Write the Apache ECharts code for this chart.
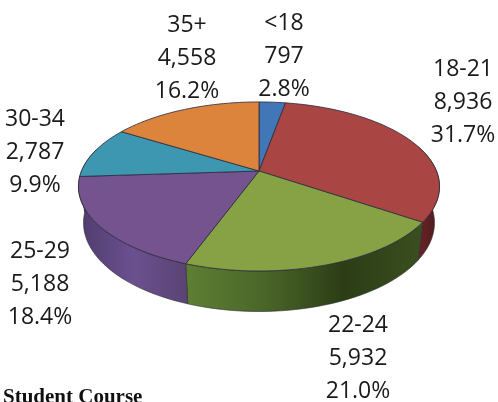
<!DOCTYPE html>
<html>
<head>
<meta charset="utf-8">
<style>
  html, body { margin: 0; background: #fff; }
  #chart { width: 498px; height: 402px; }
</style>
</head>
<body>
<div id="chart"></div>
<script src="https://cdn.jsdelivr.net/npm/echarts@6/dist/echarts.min.js"></script>
<script>
const ageGroups = ['<18', '18-21', '22-24', '25-29', '30-34', '35+']
const students = [797, 8936, 5932, 5188, 2787, 4558]
const shares = ['2.8%', '31.7%', '21.0%', '18.4%', '9.9%', '16.2%']

const faceColors = ['#4177b6', '#a94543', '#86a244', '#74538f', '#3e97b1', '#dc833c']
// left to right shading of the visible side wall
const wallStops = [
  ['#2a4a75', '#2a4a75'],
  ['#6d2627', '#4d1a1b'],
  ['#5e7f33', '#4a6628', '#2c3d16', '#3a4f1f'],
  ['#4e3c6c', '#6b5090', '#5a4472'],
  ['#27606f', '#27606f'],
  ['#8c5226', '#8c5226']
]
// label anchor per slice, centre of the three line block
const labelAnchors = [[284, 56], [463, 102], [358, 358], [40, 284], [35, 152], [187, 58]]

const apex = { x: 259, y: 171 }
const persp = 0.183
const radiusX = 177.5
const radiusY = 81.7
const wallBase = 206.5
const wallScaleX = 0.972
const wallScaleY = 1.05
const frontFrom = 72
const frontTo = 286

const total = students.reduce((sum, v) => sum + v, 0)
const bounds = [0]
students.forEach(v => bounds.push(bounds[bounds.length - 1] + (v / total) * 360))

// angle is clockwise from 12 o'clock, in degrees
const project = deg => {
  const rad = (deg * Math.PI) / 180
  const X = Math.sin(rad)
  const Y = Math.cos(rad)
  const d = 1 + persp * Y
  return { dx: (radiusX * X) / d, dy: (-radiusY * Y) / d }
}
const topPoint = deg => {
  const p = project(deg)
  return [apex.x + p.dx, apex.y + p.dy]
}
const bottomPoint = deg => {
  const p = project(deg)
  return [apex.x + p.dx * wallScaleX, wallBase + p.dy * wallScaleY]
}
const arc = (from, to, fn) => {
  const pts = []
  const steps = Math.max(2, Math.ceil(Math.abs(to - from) / 2))
  for (let i = 0; i <= steps; i++) pts.push(fn(from + ((to - from) * i) / steps))
  return pts
}

const renderWall = (params, api) => {
  const i = api.value(0)
  const from = Math.max(bounds[i], frontFrom)
  const to = Math.min(bounds[i + 1], frontTo)
  if (to <= from) return null
  const stops = wallStops[i]
  return {
    type: 'polygon',
    shape: { points: arc(from, to, topPoint).concat(arc(to, from, bottomPoint)) },
    style: {
      fill: new echarts.graphic.LinearGradient(
        0, 0, 1, 0,
        stops.map((color, k) => ({ offset: k / (stops.length - 1), color }))
      ),
      stroke: '#2b2b33',
      lineWidth: 0.6
    }
  }
}

const renderFace = (params, api) => {
  const i = api.value(0)
  return {
    type: 'polygon',
    shape: { points: [[apex.x, apex.y]].concat(arc(bounds[i], bounds[i + 1], topPoint)) },
    style: { fill: faceColors[i], stroke: '#2a2a3c', lineWidth: 0.8, lineJoin: 'round' }
  }
}

const renderLabel = (params, api) => {
  const i = api.value(0)
  return {
    type: 'text',
    x: labelAnchors[i][0],
    y: labelAnchors[i][1],
    style: {
      text: [ageGroups[i], students[i].toLocaleString('en-US'), shares[i]].join('\n'),
      font: '23px "Open Sans"',
      lineHeight: 33,
      fill: '#1a1a1a',
      align: 'center',
      verticalAlign: 'middle'
    }
  }
}

const rows = students.map((v, i) => [i, v])
const chart = echarts.init(document.getElementById('chart'), null, { renderer: 'canvas' })
chart.setOption({
  animation: false,
  backgroundColor: '#fff',
  title: {
    text: 'Student Course',
    left: 3,
    top: 387,
    padding: 0,
    textStyle: { fontFamily: 'Liberation Serif', fontWeight: 'bold', fontSize: 21, color: '#111' }
  },
  series: [
    { type: 'custom', coordinateSystem: 'none', data: rows, renderItem: renderWall, z: 1, silent: true },
    { type: 'custom', coordinateSystem: 'none', data: rows, renderItem: renderFace, z: 2, silent: true },
    { type: 'custom', coordinateSystem: 'none', data: rows, renderItem: renderLabel, z: 3, silent: true }
  ]
})
</script>
</body>
</html>
